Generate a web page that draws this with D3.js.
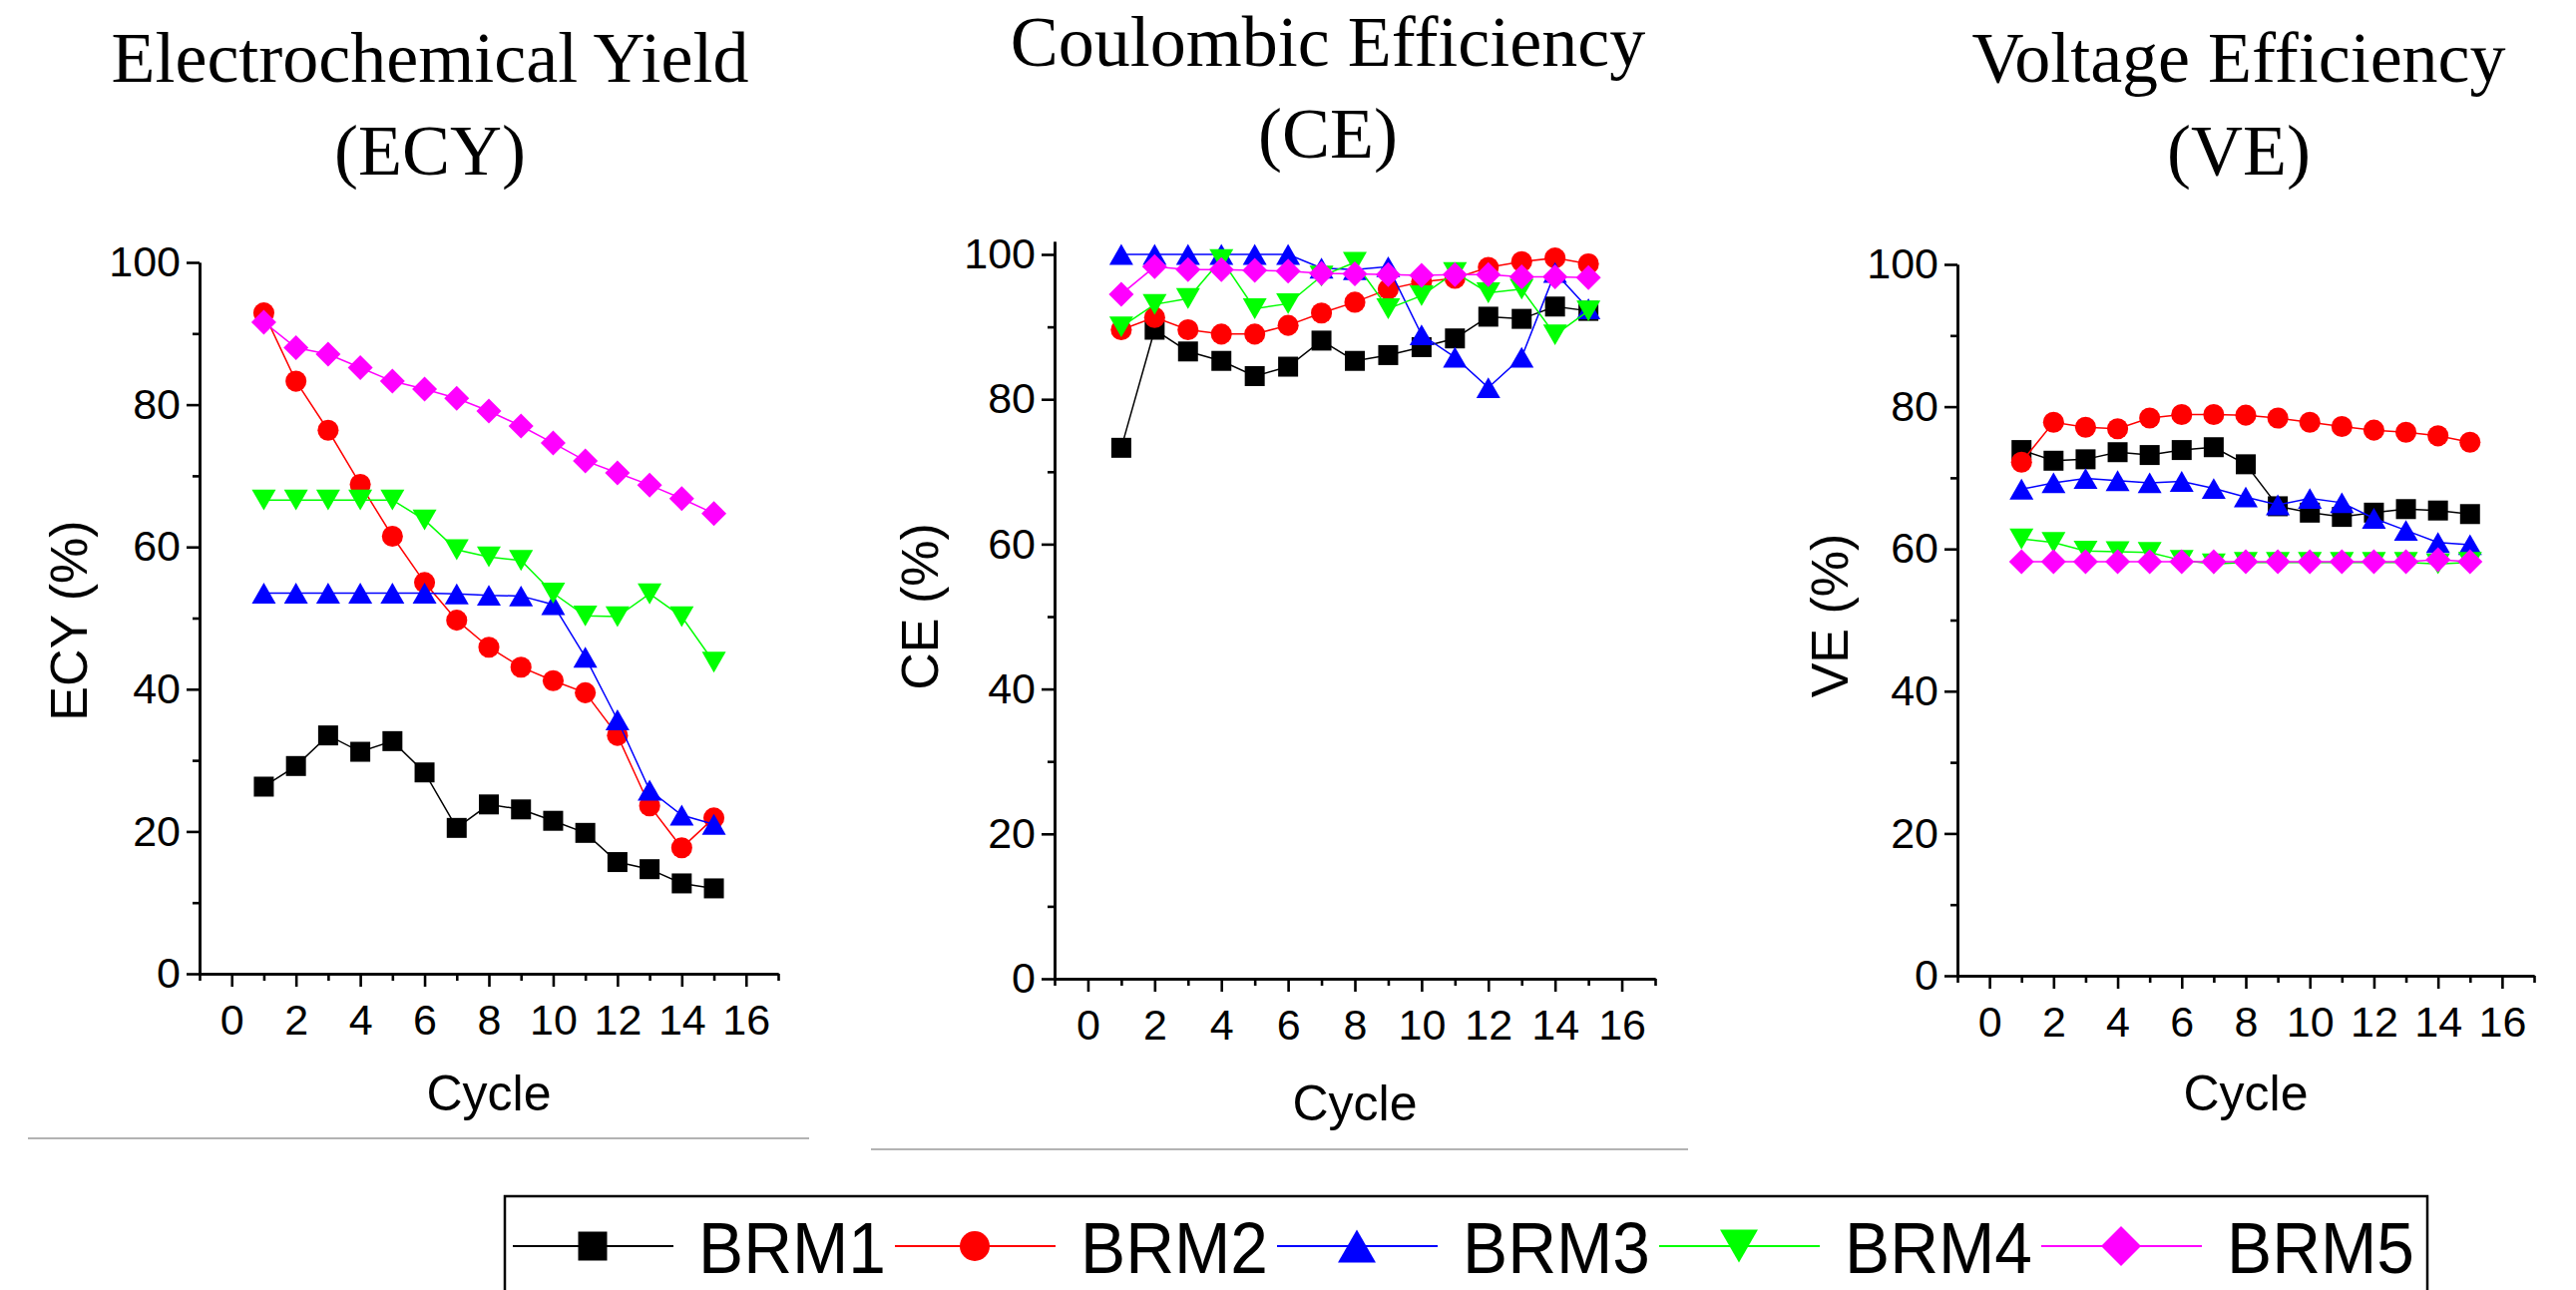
<!DOCTYPE html>
<html>
<head>
<meta charset="utf-8">
<script src="https://cdn.jsdelivr.net/npm/d3@7"></script>
<style>
  body { margin: 0; background: #fff; }
  text { font-family: "Liberation Sans", Arial, sans-serif; fill: #000; }
  .title { font-family: "Liberation Serif", "Times New Roman", serif; font-size: 72px; }
</style>
</head>
<body>
<div id="chart"></div>
<script>
// data
var cycles = [1, 2, 3, 4, 5, 6, 7, 8, 9, 10, 11, 12, 13, 14, 15];
var seriesNames = ["BRM1", "BRM2", "BRM3", "BRM4", "BRM5"];
var xTicks = [0, 2, 4, 6, 8, 10, 12, 14, 16];
var xMinorTicks = [-1, 1, 3, 5, 7, 9, 11, 13, 15, 17];
var yTicks = [0, 20, 40, 60, 80, 100];
var yMinorTicks = [10, 30, 50, 70, 90];

// Electrochemical yield (%)
var ecyValues = [
  [26.3, 29.2, 33.5, 31.2, 32.7, 28.3, 20.5, 23.8, 23.1, 21.5, 19.8, 15.7, 14.7, 12.7, 12.0],
  [92.9, 83.3, 76.4, 68.8, 61.5, 55.0, 49.7, 45.9, 43.1, 41.2, 39.5, 33.5, 23.6, 17.7, 21.9],
  [53.5, 53.5, 53.5, 53.5, 53.5, 53.5, 53.4, 53.2, 53.1, 51.9, 44.5, 35.7, 25.8, 22.3, 21.0],
  [66.6, 66.6, 66.6, 66.6, 66.6, 63.8, 59.6, 58.6, 58.1, 53.5, 50.3, 50.2, 53.4, 50.2, 43.8],
  [91.6, 88.0, 87.1, 85.2, 83.3, 82.2, 80.9, 79.1, 77.0, 74.6, 72.1, 70.4, 68.7, 66.8, 64.7]
];
// Coulombic efficiency (%)
var ceValues = [
  [73.3, 89.6, 86.6, 85.3, 83.2, 84.5, 88.1, 85.3, 86.1, 87.2, 88.4, 91.4, 91.1, 92.8, 92.2],
  [89.6, 91.3, 89.6, 89.0, 89.0, 90.2, 91.9, 93.4, 95.2, 96.2, 96.7, 98.2, 99.0, 99.5, 98.7],
  [100, 100, 100, 100, 100, 100, 98.1, 97.9, 98.3, 88.9, 85.8, 81.6, 85.8, 97.5, 92.5],
  [90.0, 93.1, 93.9, 99.3, 92.5, 93.2, 97.0, 98.9, 92.5, 94.3, 97.5, 94.7, 95.2, 88.9, 92.2],
  [94.5, 98.3, 97.9, 97.9, 97.8, 97.7, 97.4, 97.3, 97.2, 97.1, 97.2, 97.2, 96.9, 96.9, 96.8]
];
// Voltage efficiency (%)
var veValues = [
  [73.9, 72.4, 72.6, 73.6, 73.2, 73.9, 74.3, 71.9, 66.0, 65.1, 64.5, 65.1, 65.6, 65.4, 64.9],
  [72.2, 77.8, 77.1, 76.9, 78.4, 78.9, 78.9, 78.8, 78.4, 77.8, 77.2, 76.7, 76.4, 75.9, 75.0],
  [68.4, 69.3, 69.9, 69.6, 69.3, 69.5, 68.5, 67.3, 66.2, 67.1, 66.5, 64.3, 62.6, 60.9, 60.6],
  [61.4, 60.9, 59.7, 59.6, 59.5, 58.4, 57.9, 58.1, 58.1, 58.1, 58.1, 58.1, 58.1, 57.9, 58.1],
  [58.2, 58.2, 58.2, 58.2, 58.2, 58.2, 58.2, 58.2, 58.2, 58.2, 58.2, 58.2, 58.2, 58.5, 58.2]
];

var colors = ["#000000", "#ff0000", "#0000ff", "#00ff00", "#ff00ff"];

// Origin-like marker shapes (size = width^2)
var triUp = { draw: function(c, s) { var w = Math.sqrt(s), h = w * 0.87;
  c.moveTo(0, -h / 2); c.lineTo(w / 2, h / 2); c.lineTo(-w / 2, h / 2); c.closePath(); } };
var triDown = { draw: function(c, s) { var w = Math.sqrt(s), h = w * 0.87;
  c.moveTo(0, h / 2); c.lineTo(w / 2, -h / 2); c.lineTo(-w / 2, -h / 2); c.closePath(); } };
var diamond = { draw: function(c, s) { var r = Math.sqrt(s) / 2;
  c.moveTo(0, -r); c.lineTo(r, 0); c.lineTo(0, r); c.lineTo(-r, 0); c.closePath(); } };
var shapes = [d3.symbolSquare, d3.symbolCircle, triUp, triDown, diamond];
var plotSizes = [400, 350, 576, 576, 625];
var legendSizes = [841, 707, 1444, 1444, 1600];

var W = 2582, H = 1293;
var svg = d3.select("#chart").append("svg")
    .attr("width", W)
    .attr("height", H);
svg.append("rect").attr("width", W).attr("height", H).attr("fill", "#fff");

var panels = [
  {t1: "Electrochemical Yield", t2: "(ECY)", ylab: "ECY (%)", values: ecyValues,
   left: 200, right: 780, y0: 976, y100: 263, yMax: 100,
   tx: 431, ty1: 82, ty2: 175, lx: 87, ly: 622, cy: 1113, sep: [28, 811, 1141]},
  {t1: "Coulombic Efficiency", t2: "(CE)", ylab: "CE (%)", values: ceValues,
   left: 1057, right: 1659, y0: 981, y100: 255, yMax: 101.8,
   tx: 1331, ty1: 66, ty2: 158, lx: 940, ly: 608, cy: 1123, sep: [873, 1692, 1152]},
  {t1: "Voltage Efficiency", t2: "(VE)", ylab: "VE (%)", values: veValues,
   left: 1962, right: 2540, y0: 978, y100: 265, yMax: 100,
   tx: 2244, ty1: 82, ty2: 175, lx: 1852, ly: 617, cy: 1113, sep: null}
];

panels.forEach(function(p) {
  var g = svg.append("g");
  var x = d3.scaleLinear().domain([-1, 17]).range([p.left, p.right]);
  var y = d3.scaleLinear().domain([0, 100]).range([p.y0, p.y100]);
  var yAxisScale = y.copy().domain([0, p.yMax]).range([p.y0, y(p.yMax)]);

  // titles
  g.append("text").attr("class", "title").attr("x", p.tx).attr("y", p.ty1)
    .attr("text-anchor", "middle").text(p.t1);
  g.append("text").attr("class", "title").attr("x", p.tx).attr("y", p.ty2)
    .attr("text-anchor", "middle").text(p.t2);

  // axes
  g.append("g").attr("transform", "translate(0," + p.y0 + ")")
    .call(d3.axisBottom(x).tickValues(xTicks).tickSize(13).tickSizeOuter(0).tickPadding(17));
  g.append("g").attr("transform", "translate(0," + p.y0 + ")")
    .call(d3.axisBottom(x).tickValues(xMinorTicks).tickSize(7).tickSizeOuter(0).tickFormat(""));
  g.append("g").attr("transform", "translate(" + p.left + ",0)")
    .call(d3.axisLeft(yAxisScale).tickValues(yTicks).tickSize(13).tickSizeOuter(0).tickPadding(6));
  g.append("g").attr("transform", "translate(" + p.left + ",0)")
    .call(d3.axisLeft(yAxisScale).tickValues(yMinorTicks).tickSize(7).tickSizeOuter(0).tickFormat(""));
  g.selectAll(".domain, .tick line").attr("stroke", "#000").attr("stroke-width", 2.6);
  g.selectAll(".tick text").style("font-size", "43px").style("font-family", "'Liberation Sans', Arial, sans-serif");

  // axis labels
  g.append("text").attr("x", (p.left + p.right) / 2).attr("y", p.cy)
    .attr("text-anchor", "middle").style("font-size", "50px").text("Cycle");
  g.append("text").attr("transform", "translate(" + p.lx + "," + p.ly + ") rotate(-90)")
    .attr("text-anchor", "middle").style("font-size", "52px").text(p.ylab);

  // series
  var line = d3.line().x(function(d) { return x(d[0]); }).y(function(d) { return y(d[1]); });
  p.values.forEach(function(vals, i) {
    var pts = cycles.map(function(c, k) { return [c, vals[k]]; });
    g.append("path").datum(pts)
      .attr("fill", "none").attr("stroke", colors[i]).attr("stroke-width", 1.5)
      .attr("d", line);
    g.selectAll(null).data(pts).enter().append("path")
      .attr("transform", function(d) { return "translate(" + x(d[0]) + "," + y(d[1]) + ")"; })
      .attr("fill", colors[i])
      .attr("d", d3.symbol().type(shapes[i]).size(plotSizes[i]));
  });

  if (p.sep) {
    svg.append("line").attr("x1", p.sep[0]).attr("x2", p.sep[1])
      .attr("y1", p.sep[2]).attr("y2", p.sep[2])
      .attr("stroke", "#b3b3b3").attr("stroke-width", 2);
  }
});

// legend
var lg = svg.append("g");
lg.append("rect").attr("x", 506).attr("y", 1199).attr("width", 1927).attr("height", 130)
  .attr("fill", "#fff").attr("stroke", "#000").attr("stroke-width", 2.5);
var pitch = 383;
seriesNames.forEach(function(name, i) {
  var L = 514 + pitch * i;
  lg.append("line").attr("x1", L).attr("x2", L + 161).attr("y1", 1249).attr("y2", 1249)
    .attr("stroke", colors[i]).attr("stroke-width", 2);
  lg.append("path").attr("transform", "translate(" + (L + 80) + ",1249)")
    .attr("fill", colors[i])
    .attr("d", d3.symbol().type(shapes[i]).size(legendSizes[i]));
  lg.append("text").attr("x", L + 186).attr("y", 1276)
    .style("font-size", "72px").attr("textLength", 188).attr("lengthAdjust", "spacingAndGlyphs")
    .text(name);
});
</script>
</body>
</html>
